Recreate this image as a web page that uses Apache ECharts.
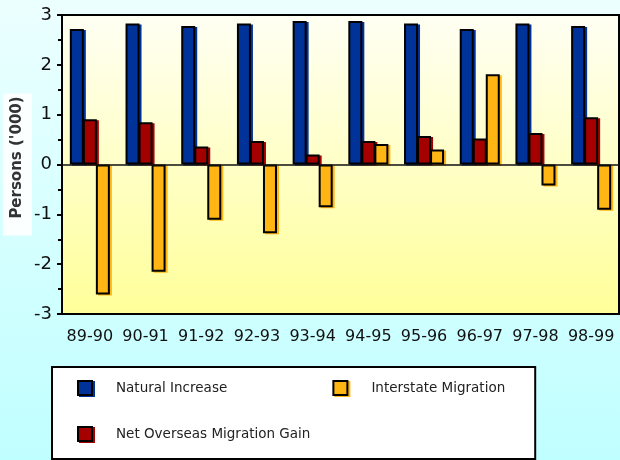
<!DOCTYPE html>
<html>
<head>
<meta charset="utf-8">
<script src="https://cdn.jsdelivr.net/npm/echarts@6/dist/echarts.min.js"></script>
<style>
  html, body { margin: 0; padding: 0; }
  body { background: linear-gradient(to bottom, #ecffff 0%, #c0ffff 100%); }
  #chart { width: 620px; height: 460px; }
</style>
</head>
<body>
<div id="chart"></div>
<script>
// Population change components by financial year (thousands of persons)
const years = ['89-90', '90-91', '91-92', '92-93', '93-94', '94-95', '95-96', '96-97', '97-98', '98-99'];
const naturalIncrease = [2.72, 2.83, 2.78, 2.83, 2.88, 2.88, 2.83, 2.72, 2.83, 2.78];
const netOverseas = [0.91, 0.85, 0.36, 0.47, 0.20, 0.47, 0.57, 0.52, 0.63, 0.95];
const interstate = [-2.61, -2.15, -1.11, -1.38, -0.86, 0.41, 0.30, 1.81, -0.42, -0.91];
const yTicks = [-3, -2, -1, 0, 1, 2, 3];

const seriesNames = ['Natural Increase', 'Net Overseas Migration Gain', 'Interstate Migration'];
const seriesColors = ['#003399', '#a50000', '#ffb514'];
const seriesValues = [naturalIncrease, netOverseas, interstate];

const chart = echarts.init(document.getElementById('chart'), null, { renderer: 'canvas' });

function barSeries(i) {
  const s = {
    name: seriesNames[i],
    type: 'bar',
    data: seriesValues[i],
    barWidth: 14,
    barGap: '-7%',
    itemStyle: {
      color: seriesColors[i],
      borderColor: '#000',
      borderWidth: 2,
      shadowColor: seriesColors[i],
      shadowBlur: 0,
      shadowOffsetX: 2,
      shadowOffsetY: 1
    },
    emphasis: { disabled: true }
  };
  if (i === 0) {
    s.markLine = {
      silent: true,
      symbol: ['none', 'none'],
      label: { show: false },
      lineStyle: { color: '#111', width: 1.5, type: 'solid' },
      data: [{ yAxis: 0 }],
      z: 5
    };
  }
  return s;
}

chart.setOption({
  animation: false,
  backgroundColor: 'transparent',
  textStyle: { fontFamily: 'DejaVu Sans' },
  grid: {
    left: 62, right: 1, top: 15, bottom: 146,
    outerBoundsMode: 'none',
    containLabel: false,
    show: true,
    borderColor: '#000',
    borderWidth: 2,
    backgroundColor: new echarts.graphic.LinearGradient(0, 0, 0, 1, [
      { offset: 0, color: '#fffff4' },
      { offset: 1, color: '#ffff99' }
    ])
  },
  xAxis: {
    type: 'category',
    data: years,
    axisLine: { onZero: false, lineStyle: { color: '#000', width: 2 } },
    axisTick: { show: false },
    axisLabel: { color: '#111', fontSize: 16, margin: 15, interval: 0 },
    splitLine: { show: false }
  },
  yAxis: {
    type: 'value',
    min: yTicks[0],
    max: yTicks[yTicks.length - 1],
    interval: 1,
    name: "Persons ('000)",
    nameLocation: 'middle',
    nameRotate: 90,
    nameGap: 30,
    nameMoveOverlap: false,
    nameTextStyle: {
      fontSize: 15,
      fontWeight: 'bold',
      color: '#333',
      backgroundColor: '#fbffff',
      padding: [7, 3, 7, 17]
    },
    axisLine: { show: true, lineStyle: { color: '#000', width: 2 } },
    axisTick: { show: true, inside: false, length: 5, lineStyle: { color: '#000', width: 2 } },
    minorTick: { show: true, splitNumber: 2, length: 4, lineStyle: { color: '#000', width: 2 } },
    axisLabel: { color: '#111', fontSize: 18, margin: 10 },
    splitLine: { show: false }
  },
  legend: {
    orient: 'vertical',
    left: 52,
    top: 367,
    height: 80,
    padding: [9, 30, 13, 25],
    backgroundColor: '#fff',
    borderColor: '#000',
    borderWidth: 2,
    itemWidth: 14,
    itemHeight: 14,
    itemGap: 22,
    selectedMode: false,
    textStyle: { fontSize: 13.5, color: '#222', lineHeight: 24, padding: [0, 0, 0, 19] },
    data: seriesNames.map((n, i) => ({
      name: n,
      icon: 'rect',
      itemStyle: {
        shadowColor: seriesColors[i], shadowBlur: 0, shadowOffsetX: 2, shadowOffsetY: 1
      }
    }))
  },
  series: [barSeries(0), barSeries(1), barSeries(2)]
});
</script>
</body>
</html>
